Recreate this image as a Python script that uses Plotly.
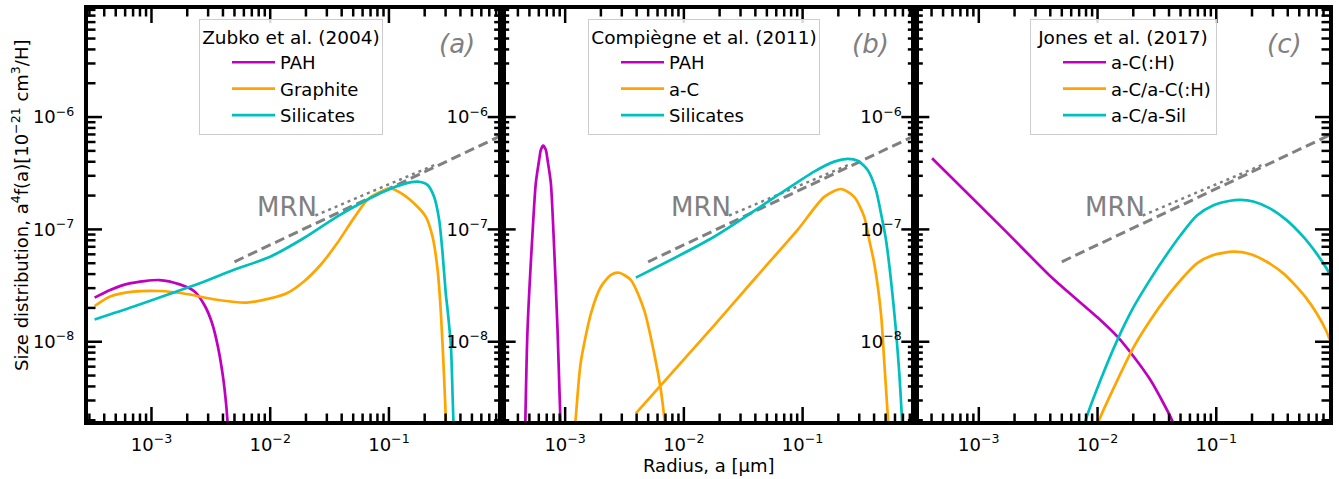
import numpy as np
import plotly.graph_objects as go

# ---------------- data (radius in micron, a^4 f(a) in cm^3/H) ----------------
# Panel (a) Zubko et al. (2004)
za_pah_a = [3.32e-4, 4.44e-4, 6.56e-4, 1.17e-3, 1.73e-3, 2.32e-3, 2.82e-3, 3.24e-3, 3.63e-3, 4.0e-3, 4.25e-3, 4.45e-3]
za_pah_f = [2.47e-8, 2.88e-8, 3.31e-8, 3.54e-8, 3.24e-8, 2.79e-8, 2.08e-8, 1.46e-8, 9.0e-9, 4.9e-9, 2.8e-9, 1.5e-9]
za_gra_a = [3.32e-4, 4.44e-4, 6.99e-4, 1.17e-3, 1.98e-3, 3.32e-3, 6.35e-3, 1.0e-2, 1.38e-2, 1.91e-2, 2.65e-2,
            3.66e-2, 5.06e-2, 6.56e-2, 8.51e-2, 0.103, 0.134, 0.174, 0.204, 0.233, 0.257, 0.273, 0.292, 0.305]
za_gra_f = [2.08e-8, 2.52e-8, 2.79e-8, 2.83e-8, 2.66e-8, 2.39e-8, 2.23e-8, 2.43e-8, 2.70e-8, 3.42e-8, 4.82e-8,
            7.52e-8, 1.26e-7, 1.83e-7, 2.17e-7, 2.32e-7, 2.02e-7, 1.59e-7, 1.30e-7, 8.6e-8, 4.35e-8, 1.91e-8,
            4.6e-9, 1.5e-9]
za_sil_a = [3.32e-4, 6.99e-4, 1.34e-3, 2.56e-3, 4.9e-3, 1.0e-2, 1.91e-2, 3.66e-2, 6.15e-2, 9.08e-2, 0.134,
            0.174, 0.211, 0.240, 0.265, 0.283, 0.301, 0.312, 0.333, 0.344, 0.352]
za_sil_f = [1.58e-8, 2.05e-8, 2.61e-8, 3.31e-8, 4.35e-8, 5.71e-8, 8.34e-8, 1.30e-7, 1.77e-7, 2.17e-7, 2.54e-7,
            2.66e-7, 2.49e-7, 1.95e-7, 1.21e-7, 6.12e-8, 2.70e-8, 1.91e-8, 9e-9, 3.2e-9, 1.5e-9]

# Panel (b) Compiegne et al. (2011)
cb_pah_a = [4.6e-4, 4.82e-4, 5.31e-4, 5.66e-4, 6.04e-4, 6.24e-4, 6.53e-4, 6.88e-4, 7.11e-4, 7.58e-4, 7.98e-4, 8.63e-4, 9.2e-4]
cb_pah_f = [1.5e-9, 1.27e-8, 9.2e-8, 2.58e-7, 4.15e-7, 5.09e-7, 5.56e-7, 5.09e-7, 4.15e-7, 2.58e-7, 9.2e-8, 1.27e-8, 1.5e-9]
cb_sac_a = [1.19e-3, 1.23e-3, 1.35e-3, 1.65e-3, 2.0e-3, 2.43e-3, 2.85e-3, 3.58e-3, 4.63e-3, 5.62e-3, 6.4e-3, 6.83e-3, 7.1e-3]
cb_sac_f = [1.5e-9, 2.15e-9, 6.42e-9, 1.79e-8, 3.09e-8, 3.93e-8, 4.11e-8, 3.54e-8, 1.91e-8, 7.88e-9, 3.72e-9, 2.15e-9, 1.5e-9]
cb_lac_a = [3.94e-3, 1.80e-2, 4.05e-2, 9.07e-2, 0.152, 0.210, 0.272, 0.330, 0.364, 0.401, 0.457, 0.488, 0.520, 0.54]
cb_lac_f = [2.3e-9, 1.4e-8, 3.75e-8, 9.9e-8, 1.95e-7, 2.29e-7, 1.95e-7, 1.30e-7, 8.05e-8, 4.99e-8, 1.79e-8, 6.4e-9, 2.3e-9, 1.2e-9]
cb_sil_a = [3.94e-3, 1.80e-2, 6.56e-2, 0.125, 0.185, 0.239, 0.291, 0.353, 0.415, 0.457, 0.504, 0.555,
            0.611, 0.652, 0.683, 0.70]
cb_sil_f = [3.72e-8, 8.6e-8, 2.10e-7, 3.27e-7, 4.01e-7, 4.24e-7, 4.09e-7, 3.38e-7, 2.24e-7, 1.39e-7, 8.05e-8, 3.54e-8,
            1.27e-8, 5.24e-9, 2.3e-9, 1.3e-9]

# Panel (c) Jones et al. (2017)
jc_ach_a = [4.04e-4, 1.64e-3, 4.05e-3, 6.77e-3, 9.96e-3, 1.47e-2, 2.02e-2, 2.79e-2, 3.60e-2, 4.24e-2, 4.6e-2]
jc_ach_f = [4.30e-7, 9.9e-8, 3.79e-8, 2.35e-8, 1.65e-8, 1.11e-8, 7.35e-9, 4.56e-9, 2.82e-9, 2.0e-9, 1.6e-9]
jc_acc_a = [9.5e-3, 1.03e-2, 1.47e-2, 2.02e-2, 2.79e-2, 3.85e-2, 5.31e-2, 6.87e-2, 9.48e-2, 0.139, 0.192, 0.266,
            0.367, 0.474, 0.575, 0.698, 0.847, 0.9]
jc_acc_f = [1.5e-9, 2.0e-9, 4.56e-9, 9.0e-9, 1.56e-8, 2.52e-8, 3.79e-8, 4.99e-8, 5.92e-8, 6.33e-8, 6.04e-8, 5.15e-8,
            4.06e-8, 3.09e-8, 2.43e-8, 1.80e-8, 1.24e-8, 1.05e-8]
jc_sil_a = [7.5e-3, 7.94e-3, 1.06e-2, 1.47e-2, 2.02e-2, 2.79e-2, 3.85e-2, 4.98e-2, 6.87e-2, 9.48e-2, 0.131, 0.160,
            0.205, 0.283, 0.391, 0.540, 0.698, 0.847, 0.9]
jc_sil_f = [1.5e-9, 2.0e-9, 4.56e-9, 1.04e-8, 2.05e-8, 3.61e-8, 6.04e-8, 8.83e-8, 1.33e-7, 1.64e-7, 1.80e-7, 1.83e-7,
            1.77e-7, 1.54e-7, 1.21e-7, 8.61e-8, 6.12e-8, 4.51e-8, 4.0e-8]

# MRN reference lines
mrn_a = [0.005, 1.0]
mrn_f = [5.15e-8, 7.28e-7]
mrn2_a = [0.024, 0.25]
mrn2_f = [1.33e-7, 3.8e-7]

panel_titles = ["Zubko et al. (2004)", "Compiègne et al. (2011)", "Jones et al. (2017)"]
panel_tags = ["(a)", "(b)", "(c)"]
series_names = [["PAH", "Graphite", "Silicates"], ["PAH", "a-C", "Silicates"],
                ["a-C(:H)", "a-C/a-C(:H)", "a-C/a-Sil"]]
xlim = [2.92e-4, 0.89]
ylim = [1.97e-9, 9.16e-6]
x_tick_vals = [1e-3, 1e-2, 1e-1]
x_tick_text = ["10<sup>−3</sup>", "10<sup>−2</sup>", "10<sup>−1</sup>"]
y_tick_vals = [1e-8, 1e-7, 1e-6]
y_tick_text = ["10<sup>−8</sup>", "10<sup>−7</sup>", "10<sup>−6</sup>"]
x_label = "Radius, a [μm]"
y_label = "Size distribution, a<sup>4</sup>f(a)[10<sup>−21</sup> cm<sup>3</sup>/H]"

minor_x = [m * 10.0 ** e for e in range(-4, 1) for m in range(2, 10)]
minor_y = [m * 10.0 ** e for e in range(-10, -4) for m in range(2, 10)]
minor_x = [v for v in minor_x if xlim[0] < v < xlim[1]]
minor_y = [v for v in minor_y if ylim[0] < v < ylim[1]]

MAG = "#bf00bf"
ORA = "#ffa500"
CYA = "#00bfbf"
GRAY = "#808080"
FONT = "DejaVu Sans"

W, H = 1339, 479
PL, PR, PT, PB = 88, 1329, 9, 421            # plot area in page pixels
ML, MT, MR, MB = PL, PT, W - PR, H - PB
pw, ph = PR - PL, PB - PT
pw1 = pw / 3.0
MAJ_LEN, MIN_LEN = 14.0, 7.5


def px_x(p):
    return (p - PL) / pw


def px_y(p):
    return (PB - p) / ph


fig = go.Figure()

panels = [
    [(za_pah_a, za_pah_f, MAG), (za_gra_a, za_gra_f, ORA), (za_sil_a, za_sil_f, CYA)],
    [(cb_pah_a, cb_pah_f, MAG), (cb_sac_a + [None] + cb_lac_a, cb_sac_f + [None] + cb_lac_f, ORA),
     (cb_sil_a, cb_sil_f, CYA)],
    [(jc_ach_a, jc_ach_f, MAG), (jc_acc_a, jc_acc_f, ORA), (jc_sil_a, jc_sil_f, CYA)],
]

for i, series in enumerate(panels):
    sx = "x" if i == 0 else f"x{i+1}"
    sy = "y" if i == 0 else f"y{i+1}"
    lg = "legend" if i == 0 else f"legend{i+1}"
    fig.add_trace(go.Scatter(x=mrn_a, y=mrn_f, mode="lines", xaxis=sx, yaxis=sy, showlegend=False,
                             line=dict(color=GRAY, width=3, dash="10px,5px"), hoverinfo="skip"))
    fig.add_trace(go.Scatter(x=mrn2_a, y=mrn2_f, mode="lines", xaxis=sx, yaxis=sy, showlegend=False,
                             line=dict(color=GRAY, width=2.5, dash="3px,4px"), hoverinfo="skip"))
    for (xa, yf, col), nm in zip(series, series_names[i]):
        fig.add_trace(go.Scatter(x=xa, y=yf, mode="lines", name=nm, xaxis=sx, yaxis=sy, legend=lg,
                                 line=dict(color=col, width=2.7, shape="spline", smoothing=0.7),
                                 connectgaps=False))

axis_common = dict(
    type="log", showgrid=False, zeroline=False, showline=True, linewidth=4, linecolor="black",
    mirror=True, ticks="", tickmode="array",
    tickfont=dict(family=FONT, size=18, color="black"),
    automargin=False,
)

legx = [199, 588, 1030]
xr = [np.log10(xlim[0]), np.log10(xlim[1])]
yr = [np.log10(ylim[0]), np.log10(ylim[1])]
tick_line = dict(color="black", width=2.5)
for i in range(3):
    suf = "" if i == 0 else str(i + 1)
    fig.layout["xaxis" + suf] = dict(axis_common, domain=[i / 3, (i + 1) / 3], range=xr,
                                     tickvals=x_tick_vals, ticktext=x_tick_text, anchor="y" + suf)
    fig.layout["yaxis" + suf] = dict(axis_common, domain=[0, 1], range=yr,
                                     tickvals=y_tick_vals, ticktext=y_tick_text, anchor="x" + suf)
    fig.layout["xaxis" + suf].ticklabelstandoff = 4
    fig.layout["yaxis" + suf].ticklabelstandoff = 6

    # inward tick marks on all four sides (major + minor), placed at the tick values
    for vals, ln in ((x_tick_vals, MAJ_LEN), (minor_x, MIN_LEN)):
        dy = ln / ph
        for v in vals:
            for y0, y1 in ((0, dy), (1, 1 - dy)):
                fig.add_shape(type="line", xref="x" + suf, yref="y" + suf + " domain",
                              x0=v, x1=v, y0=y0, y1=y1, line=tick_line, layer="above")
    for vals, ln in ((y_tick_vals, MAJ_LEN), (minor_y, MIN_LEN)):
        dx = ln / pw1
        for v in vals:
            for x0, x1 in ((0, dx), (1, 1 - dx)):
                fig.add_shape(type="line", xref="x" + suf + " domain", yref="y" + suf,
                              x0=x0, x1=x1, y0=v, y1=v, line=tick_line, layer="above")

    fig.layout["legend" + suf] = dict(
        x=px_x(legx[i]), y=px_y(19), xanchor="left", yanchor="top",
        xref="paper", yref="paper",
        bgcolor="rgba(255,255,255,0.85)", bordercolor="#cccccc", borderwidth=1,
        font=dict(family=FONT, size=18, color="black"),
        title=dict(text=panel_titles[i], side="top center", font=dict(family=FONT, size=18.5, color="black")),
        indentation=27, itemwidth=43, tracegroupgap=0,
    )
    fig.add_annotation(x=np.log10(7.5e-3), y=np.log10(1.58e-7), xref="x" + suf, yref="y" + suf,
                       text="MRN", showarrow=False, xanchor="left", yanchor="middle",
                       font=dict(family=FONT, size=26, color=GRAY))
    fig.add_annotation(x=0.94, y=0.915, xref=("x" + suf + " domain"), yref=("y" + suf + " domain"),
                       text="<i>" + panel_tags[i] + "</i>", showarrow=False, xanchor="right", yanchor="middle",
                       font=dict(family=FONT, size=26, color=GRAY))

fig.add_annotation(x=0.5, y=px_y(465), xref="paper", yref="paper", text=x_label,
                   showarrow=False, xanchor="center", yanchor="middle",
                   font=dict(family=FONT, size=18, color="black"))
fig.add_annotation(x=px_x(20), y=px_y(206), xref="paper", yref="paper", text=y_label,
                   textangle=-90, showarrow=False, xanchor="center", yanchor="middle",
                   font=dict(family=FONT, size=18, color="black"))

fig.update_layout(
    template="none", width=W, height=H,
    margin=dict(l=ML, r=MR, t=MT, b=MB, pad=0),
    paper_bgcolor="white", plot_bgcolor="white",
    font=dict(family=FONT, size=18, color="black"),
    showlegend=True,
)

fig.write_html("out.html", config={"displayModeBar": False},
               post_script="document.body.style.margin='0px';document.body.style.overflow='hidden';")
